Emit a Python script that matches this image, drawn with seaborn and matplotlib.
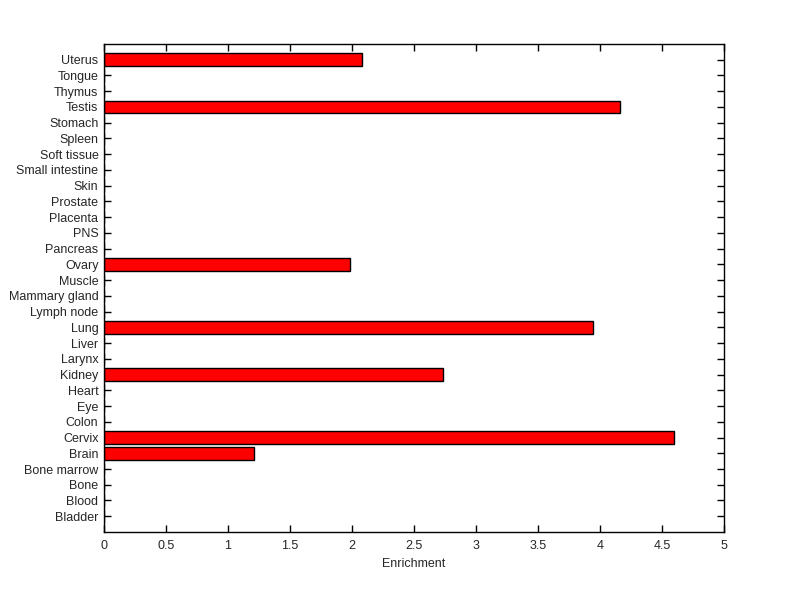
import pandas as pd
import matplotlib
matplotlib.use("Agg")
import matplotlib.pyplot as plt
import seaborn as sns

# tissues listed bottom -> top (as in the reference)
tissues = ["Bladder", "Blood", "Bone", "Bone marrow", "Brain", "Cervix", "Colon",
           "Eye", "Heart", "Kidney", "Larynx", "Liver", "Lung", "Lymph node",
           "Mammary gland", "Muscle", "Ovary", "Pancreas", "PNS", "Placenta",
           "Prostate", "Skin", "Small intestine", "Soft tissue", "Spleen",
           "Stomach", "Testis", "Thymus", "Tongue", "Uterus"]
enrichment = [0, 0, 0, 0, 1.21, 4.60, 0,
              0, 0, 2.73, 0, 0, 3.94, 0,
              0, 0, 1.98, 0, 0, 0,
              0, 0, 0, 0, 0,
              0, 4.16, 0, 0, 2.08]
xticks = [0, 0.5, 1, 1.5, 2, 2.5, 3, 3.5, 4, 4.5, 5]
xtick_labels = ["0", "0.5", "1", "1.5", "2", "2.5", "3", "3.5", "4", "4.5", "5"]

df = pd.DataFrame({"tissue": tissues, "enrichment": enrichment})
order = tissues[::-1]  # seaborn draws the first category at the top

sns.set_style("white")
plt.rcParams['font.family'] = ['Liberation Sans', 'DejaVu Sans']

fig = plt.figure(figsize=(8, 5.99), dpi=100)
ax = fig.add_axes([0.13, 0.1119, 0.775, 0.8147])

sns.barplot(data=df, x="enrichment", y="tissue", order=order, orient="h",
            color="#ff0000", edgecolor="black", linewidth=1, width=0.8,
            saturation=1, ax=ax)

ax.set_xlim(0, 5)
ax.set_ylim(len(tissues), -1)
ax.set_xticks(xticks)
ax.set_xticklabels(xtick_labels)
ax.set_xlabel("Enrichment", fontsize=9, labelpad=4)
ax.set_ylabel("")

ax.tick_params(axis="both", direction="in", length=5, width=1, color="black",
               labelsize=9, top=True, right=True, bottom=True, left=True, pad=4)
ax.tick_params(axis="x", pad=6)
for s in ax.spines.values():
    s.set_color("black")
    s.set_linewidth(1)
    s.set_visible(True)

fig.savefig("out.png", dpi=100, facecolor="white")
